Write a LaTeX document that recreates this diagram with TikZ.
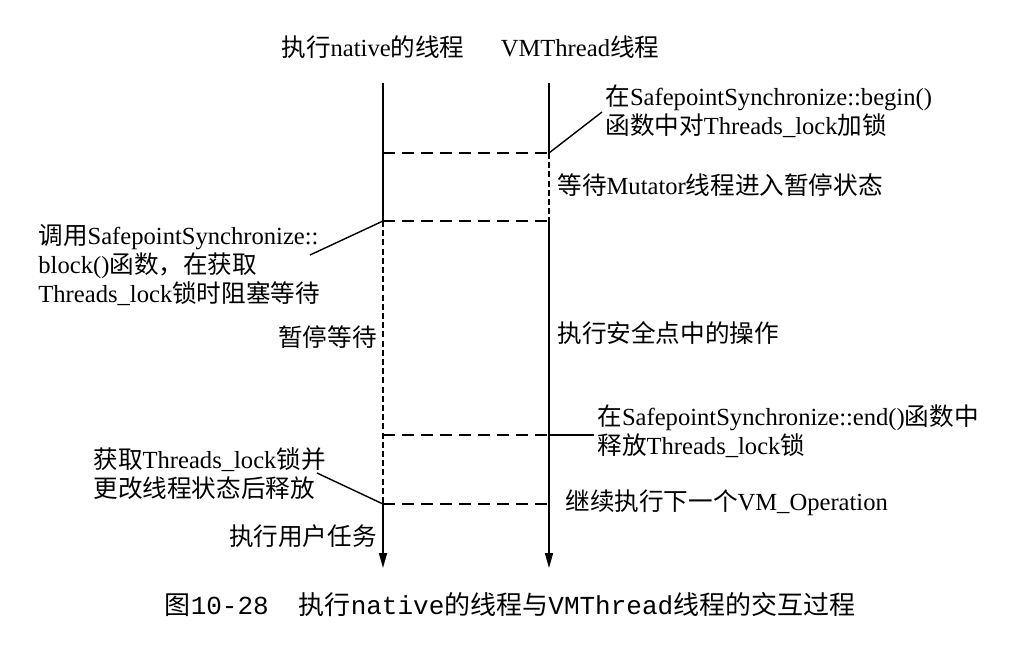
\documentclass[tikz,border=0pt]{standalone}
\usepackage{fontspec}
\setmainfont{Liberation Serif}
\newfontfamily\zh{Noto Sans CJK SC}
\newfontfamily\capmono{Liberation Mono}
\usetikzlibrary{arrows.meta}

\tikzset{
  lbl/.style={inner sep=0pt, align=left, font=\fontsize{12.3}{14.5}\selectfont},
  life/.style={line width=0.8pt},
  hwait/.style={line width=0.8pt, dash pattern=on 6pt off 3.5pt},
  vwait/.style={line width=0.8pt, dash pattern=on 3pt off 1.6pt},
  tip/.style={-{Triangle[length=7.5pt,width=4pt]}},
  pointer/.style={line width=0.7pt},
}

\begin{document}
\begin{tikzpicture}[x=0.5pt,y=-0.5pt]
\useasboundingbox (0,0) rectangle (1020,647);

% thread names
\node[lbl] (tnative) at (373,47) {{\zh 执行}native{\zh 的线程}};
\node[lbl] (tvm) at (580,47) {VMThread{\zh 线程}};

% points on the two lifelines
\coordinate (L0) at (383,83);
\coordinate (La) at (383,153);
\coordinate (L1) at (383,221);
\coordinate (Lb) at (383,435);
\coordinate (L2) at (383,504);
\coordinate (Lend) at (383,568);
\coordinate (R0) at (549,83);
\coordinate (R1) at (549,153);
\coordinate (R2) at (549,221);
\coordinate (R3) at (549,435);
\coordinate (R4) at (549,504);
\coordinate (Rend) at (549,568);

% native thread
\draw[life] (L0) -- (L1);
\draw[vwait] (L1) -- (L2);
\draw[life,tip] (L2) -- (Lend);

% VMThread
\draw[life] (R0) -- (R1);
\draw[vwait] (R1) -- (R2);
\draw[life,tip] (R2) -- (Rend);

% synchronisation points
\draw[hwait] (La) -- (R1);
\draw[hwait] (L1) -- (R2);
\draw[hwait] (Lb) -- (R3);
\draw[hwait] (L2) -- (R4);

% labels
\node[lbl,anchor=west] (begin) at (605,111)
  {{\zh 在}SafepointSynchronize::begin()\\{\zh 函数中对}Threads\_lock{\zh 加锁}};
\node[lbl,anchor=west] (mutator) at (557,185) {{\zh 等待}Mutator{\zh 线程进入暂停状态}};
\node[lbl,anchor=west] (block) at (38,265)
  {{\zh 调用}SafepointSynchronize::\\block(){\zh 函数，在获取}\\Threads\_lock{\zh 锁时阻塞等待}};
\node[lbl,anchor=east] (pause) at (377,337) {\zh 暂停等待};
\node[lbl,anchor=west] (safe) at (557,333) {\zh 执行安全点中的操作};
\node[lbl,anchor=west] (end) at (597,431)
  {{\zh 在}SafepointSynchronize::end(){\zh 函数中}\\{\zh 释放}Threads\_lock{\zh 锁}};
\node[lbl,anchor=west] (next) at (565,503) {{\zh 继续执行下一个}VM\_Operation};
\node[lbl,anchor=west] (acquire) at (93,474)
  {{\zh 获取}Threads\_lock{\zh 锁并}\\{\zh 更改线程状态后释放}};
\node[lbl,anchor=east] (user) at (377,536) {\zh 执行用户任务};

% pointers from labels to the lifelines
\coordinate (pbegin) at (602,112);
\coordinate (pblock) at (310,255);
\coordinate (pend) at (594,435);
\coordinate (pacquire) at (317,473);
\draw[pointer] (R1) -- (pbegin);
\draw[pointer] (L1) -- (pblock);
\draw[pointer] (R3) -- (pend);
\draw[pointer] (L2) -- (pacquire);

% caption
\node[inner sep=0pt, font=\fontsize{13}{15}\selectfont] (caption) at (510,605)
  {{\zh 图}{\capmono 10-28}\hspace{15pt}{\zh 执行}{\capmono native}{\zh 的线程与}{\capmono VMThread}{\zh 线程的交互过程}};
\end{tikzpicture}
\end{document}
